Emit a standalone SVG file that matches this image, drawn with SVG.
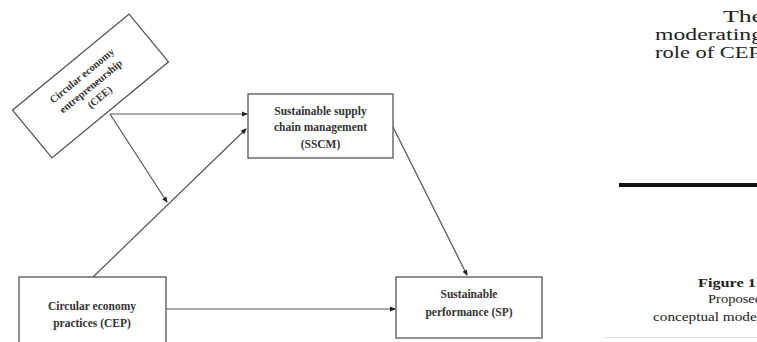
<svg xmlns="http://www.w3.org/2000/svg" width="757" height="342" viewBox="0 0 757 342">
<style>
.box{fill:#fff;stroke:#555;stroke-width:1.3}
.lbl{font-family:"Liberation Serif","Times New Roman",serif;font-weight:bold;font-size:11.5px;fill:#333;text-anchor:middle}
.edge{stroke:#555;stroke-width:1.2;fill:none;marker-end:url(#ah)}
.side{font-family:"Liberation Serif","Times New Roman",serif;fill:#222}
</style>
<defs>
<marker id="ah" markerWidth="6" markerHeight="6" refX="5" refY="3" orient="auto" markerUnits="userSpaceOnUse">
<path d="M0,0.5 L6,3 L0,5.5 Z" fill="#222"/>
</marker>
</defs>
<rect width="757" height="342" fill="#fff"/>
<g id="connectors">
<line class="edge" x1="110" y1="114" x2="247" y2="114"/>
<line class="edge" x1="110" y1="114" x2="167" y2="202"/>
<line class="edge" x1="93" y1="277" x2="246" y2="129"/>
<line class="edge" x1="393" y1="127" x2="467" y2="275"/>
<line class="edge" x1="166" y1="309" x2="395" y2="309"/>
</g>
<g id="CEE" transform="translate(90.5,86) rotate(-39.5)">
<rect class="box" x="-75.5" y="-31" width="151" height="62"/>
<text class="lbl" style="font-size:10.5px" x="0" y="-10">Circular economy</text>
<text class="lbl" style="font-size:10.5px" x="0" y="4">entrepreneurship</text>
<text class="lbl" style="font-size:10.5px" x="0" y="18">(CEE)</text>
</g>
<g id="SSCM">
<rect class="box" x="248" y="94" width="145" height="64"/>
<text class="lbl" x="320.5" y="115">Sustainable supply</text>
<text class="lbl" x="320.5" y="131">chain management</text>
<text class="lbl" x="320.5" y="148">(SSCM)</text>
</g>
<g id="CEP">
<rect class="box" x="19" y="277" width="147" height="70"/>
<text class="lbl" x="92" y="310">Circular economy</text>
<text class="lbl" x="92" y="327">practices (CEP)</text>
</g>
<g id="SP">
<rect class="box" x="396" y="277" width="146" height="61"/>
<text class="lbl" x="469" y="298">Sustainable</text>
<text class="lbl" x="469" y="316">performance (SP)</text>
</g>
<g id="side">
<text class="side" x="723" y="22" font-size="16" textLength="40" lengthAdjust="spacingAndGlyphs">The</text>
<text class="side" x="655" y="40" font-size="16" textLength="108" lengthAdjust="spacingAndGlyphs">moderating</text>
<text class="side" x="655" y="58" font-size="16" textLength="106" lengthAdjust="spacingAndGlyphs">role of CEP</text>
<line x1="619" y1="185" x2="757" y2="185" stroke="#111" stroke-width="4"/>
<text class="side" x="698" y="287" font-size="13.5" font-weight="bold" textLength="62" lengthAdjust="spacingAndGlyphs">Figure 1.</text>
<text class="side" x="708" y="303" font-size="12.5" textLength="54" lengthAdjust="spacingAndGlyphs">Proposed</text>
<text class="side" x="653" y="321" font-size="12.5" textLength="108" lengthAdjust="spacingAndGlyphs">conceptual model</text>
<line x1="605" y1="337.5" x2="757" y2="337.5" stroke="#ddd" stroke-width="1"/>
</g>
</svg>
